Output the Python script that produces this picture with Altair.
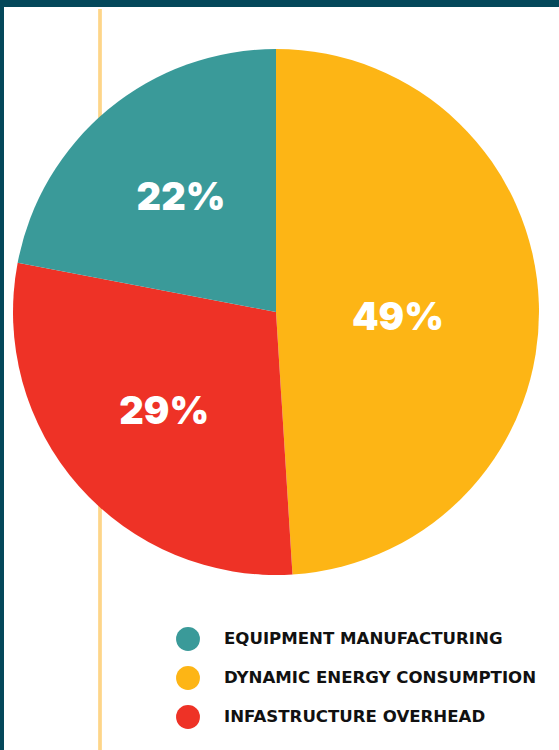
import altair as alt
import pandas as pd

categories = ["DYNAMIC ENERGY CONSUMPTION", "INFASTRUCTURE OVERHEAD", "EQUIPMENT MANUFACTURING"]
values = [49, 29, 22]
labels = ["49%", "29%", "22%"]
legend_order = ["EQUIPMENT MANUFACTURING", "DYNAMIC ENERGY CONSUMPTION", "INFASTRUCTURE OVERHEAD"]
colors = ["#3a9a99", "#fdb515", "#ee3226"]

df = pd.DataFrame({"category": categories, "value": values, "label": labels, "order": [0, 1, 2]})

CX, CY = 272, 305

base = alt.Chart(df).encode(
    theta=alt.Theta("value:Q", stack=True),
    order=alt.Order("order:Q"),
)

pie = base.mark_arc(outerRadius=263, stroke=None).encode(
    x=alt.value(CX),
    y=alt.value(CY),
    color=alt.Color(
        "category:N",
        scale=alt.Scale(domain=legend_order, range=colors),
        sort=legend_order,
        legend=alt.Legend(
            title=None,
            orient="none",
            legendX=172,
            legendY=620,
            symbolType="circle",
            symbolSize=570,
            symbolStrokeWidth=0,
            labelFont="DejaVu Sans",
            labelFontWeight="bold",
            labelFontSize=16.6,
            labelColor="#111111",
            labelOffset=24,
            rowPadding=15,
            labelLimit=400,
        ),
    ),
)

def label_layer(r, big, dy):
    cond = "datum.value > 40" if big else "datum.value <= 40"
    return base.transform_calculate(
        shown=f"{cond} ? datum.label : ''"
    ).mark_text(
        font="Inter", fontWeight=900, fontSize=38, color="white",
        baseline="middle", align="center", radius=r, dy=dy
    ).encode(
        x=alt.value(CX),
        y=alt.value(CY),
        text="shown:N",
    )

rule = alt.Chart(df).mark_rule(color="#fdd58a", strokeWidth=3).encode(
    x=alt.value(96), y=alt.value(2), y2=alt.value(743)
)

chart = alt.layer(rule, pie, label_layer(122, True, 11), label_layer(149, False, 2)).properties(
    width=555,
    height=743,
    padding={"left": 4, "top": 7, "right": 0, "bottom": 0},
    autosize=alt.AutoSizeParams(type="none"),
    background="#04485a",
).configure_view(fill="white", stroke=None)

chart.save("out.html", embed_options={"renderer": "svg", "actions": False})
